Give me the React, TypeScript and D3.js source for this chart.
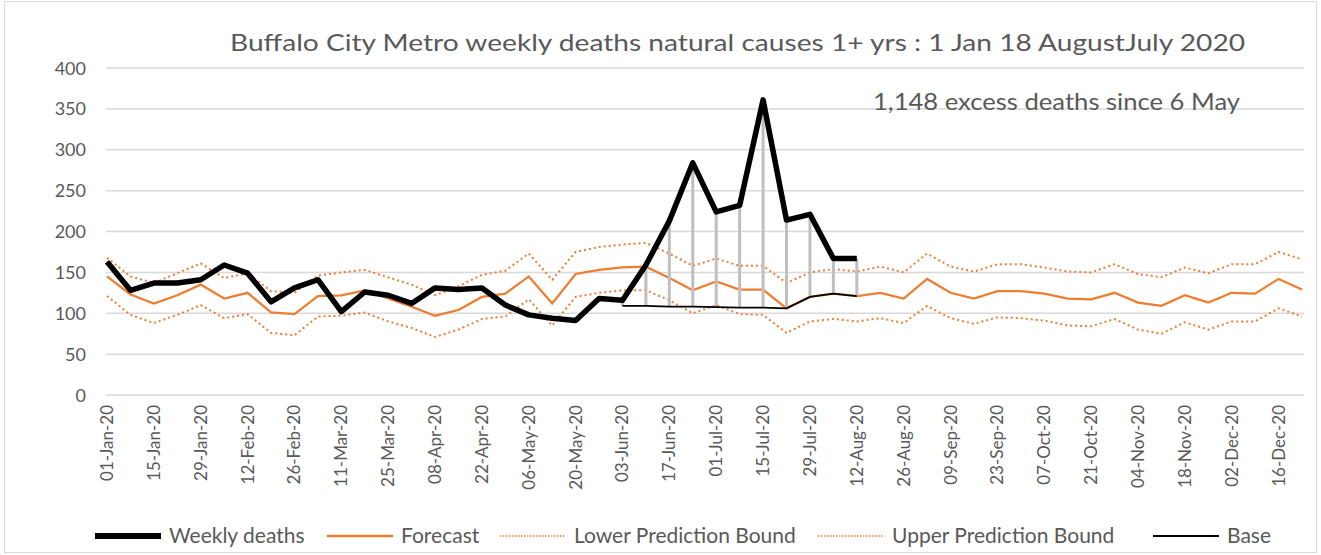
import React from "react";
import * as d3 from "d3";

// weekly dates, 2020 (every week, labels shown on every 2nd)
const weeks = [
  "01-Jan-20", "08-Jan-20", "15-Jan-20", "22-Jan-20", "29-Jan-20", "05-Feb-20", "12-Feb-20", "19-Feb-20",
  "26-Feb-20", "04-Mar-20", "11-Mar-20", "18-Mar-20", "25-Mar-20", "01-Apr-20", "08-Apr-20", "15-Apr-20",
  "22-Apr-20", "29-Apr-20", "06-May-20", "13-May-20", "20-May-20", "27-May-20", "03-Jun-20", "10-Jun-20",
  "17-Jun-20", "24-Jun-20", "01-Jul-20", "08-Jul-20", "15-Jul-20", "22-Jul-20", "29-Jul-20", "05-Aug-20",
  "12-Aug-20", "19-Aug-20", "26-Aug-20", "02-Sep-20", "09-Sep-20", "16-Sep-20", "23-Sep-20", "30-Sep-20",
  "07-Oct-20", "14-Oct-20", "21-Oct-20", "28-Oct-20", "04-Nov-20", "11-Nov-20", "18-Nov-20", "25-Nov-20",
  "02-Dec-20", "09-Dec-20", "16-Dec-20", "23-Dec-20",
];

const weeklyDeaths = [
  163, 128, 137, 137, 141, 159, 149, 114, 131, 141, 102, 126, 122, 112, 131, 129,
  131, 110, 98, 94, 91, 118, 116, 159, 213, 284, 224, 232, 361, 214, 221, 167,
  167,
];

const forecast = [
  145, 123, 112, 122, 135, 118, 125, 101, 99, 121, 122, 128, 118, 108, 97, 104,
  120, 124, 145, 112, 148, 153, 156, 157, 143, 128, 139, 129, 129, 106, 120, 124,
  121, 125, 118, 142, 125, 118, 127, 127, 124, 118, 117, 125, 113, 109, 122, 113,
  125, 124, 142, 129,
];

const lowerBound = [
  121, 98, 88, 98, 110, 94, 99, 76, 73, 96, 97, 101, 90, 82, 71, 80,
  93, 96, 117, 85, 120, 125, 128, 128, 116, 100, 110, 99, 98, 76, 90, 93,
  90, 94, 88, 109, 94, 87, 95, 94, 91, 85, 84, 93, 80, 75, 89, 80,
  90, 90, 106, 96,
];

const upperBound = [
  168, 145, 137, 149, 161, 143, 149, 127, 125, 146, 150, 153, 144, 135, 122, 133,
  147, 152, 173, 141, 175, 181, 184, 186, 173, 158, 167, 158, 158, 137, 150, 154,
  151, 157, 150, 173, 157, 151, 160, 160, 156, 151, 150, 160, 148, 144, 156, 149,
  160, 160, 175, 166,
];

// base line for excess deaths, from 03-Jun to 12-Aug
const baseStart = 22;
const base = [109, 109, 108, 108, 107.5, 107, 107, 106, 120, 124, 121];

const yTicks = [0, 50, 100, 150, 200, 250, 300, 350, 400];

const ORANGE = "#ED7D31";
const TEXT = "#595959";
const GRID = "#D9D9D9";
const FONT = "Lato, 'Open Sans', sans-serif";

const x = d3.scaleLinear().domain([0, weeks.length - 1]).range([107, 1302]);
const y = d3.scaleLinear().domain([0, 400]).range([395, 68]);

const line = d3
  .line<number>()
  .x((_, i) => x(i))
  .y((d) => y(d));

const baseLine = d3
  .line<number>()
  .x((_, i) => x(i + baseStart))
  .y((d) => y(d));

const legend = [
  { label: "Weekly deaths", x: 95, stroke: "#000", width: 6, dash: "" },
  { label: "Forecast", x: 327, stroke: ORANGE, width: 2.5, dash: "" },
  { label: "Lower Prediction Bound", x: 500, stroke: ORANGE, width: 1.5, dash: "1.5,1.5" },
  { label: "Upper Prediction Bound", x: 818, stroke: ORANGE, width: 1.5, dash: "1.5,1.5" },
  { label: "Base", x: 1153, stroke: "#000", width: 2, dash: "" },
];

export default function App() {
  return (
    <svg
      width={1321}
      height={555}
      style={{ position: "absolute", left: 0, top: 0, background: "#fff" }}
      fontFamily={FONT}
    >
      <rect x={4.5} y={1.5} width={1312} height={551} fill="#fff" stroke={GRID} />

      {/* gridlines + y labels */}
      {yTicks.map((t) => (
        <g key={t}>
          <line x1={106} x2={1304} y1={y(t)} y2={y(t)} stroke={GRID} strokeWidth={1.5} />
          <text x={86} y={y(t) + 6.5} textAnchor="end" fontSize={18} fill={TEXT}>
            {t}
          </text>
        </g>
      ))}

      {/* title */}
      <text x={230} y={51} fontSize={24} fill={TEXT} textLength={1015} lengthAdjust="spacingAndGlyphs">
        Buffalo City Metro weekly deaths natural causes 1+ yrs  : 1 Jan 18 AugustJuly 2020
      </text>
      <text x={873} y={110} fontSize={23} fill={TEXT} textLength={367} lengthAdjust="spacingAndGlyphs">
        1,148 excess deaths since 6 May
      </text>

      {/* prediction bounds + forecast */}
      <path d={line(lowerBound) ?? ""} fill="none" stroke={ORANGE} strokeWidth={2} strokeDasharray="2,3" />
      <path d={line(upperBound) ?? ""} fill="none" stroke={ORANGE} strokeWidth={2} strokeDasharray="2,3" />
      <path d={line(forecast) ?? ""} fill="none" stroke={ORANGE} strokeWidth={2.25} />

      {/* excess drop lines */}
      {base.map((b, k) => {
        const i = k + baseStart;
        return (
          <line key={i} x1={x(i)} x2={x(i)} y1={y(weeklyDeaths[i])} y2={y(b)} stroke="#BFBFBF" strokeWidth={3} />
        );
      })}
      <path d={baseLine(base) ?? ""} fill="none" stroke="#000" strokeWidth={1.75} />

      <path d={line(weeklyDeaths) ?? ""} fill="none" stroke="#000" strokeWidth={5.5} strokeLinejoin="round" />

      {/* x labels */}
      {weeks.map((w, i) =>
        i % 2 === 0 ? (
          <text
            key={w}
            transform={`translate(${x(i) + 6},${405}) rotate(-90)`}
            textAnchor="end"
            fontSize={17}
            fill={TEXT}
          >
            {w}
          </text>
        ) : null
      )}

      {/* legend */}
      {legend.map((l) => (
        <g key={l.label}>
          <line
            x1={l.x}
            x2={l.x + 66}
            y1={536}
            y2={536}
            stroke={l.stroke}
            strokeWidth={l.width}
            strokeDasharray={l.dash}
          />
          <text x={l.x + 74} y={543} fontSize={21} fill={TEXT}>
            {l.label}
          </text>
        </g>
      ))}
    </svg>
  );
}
